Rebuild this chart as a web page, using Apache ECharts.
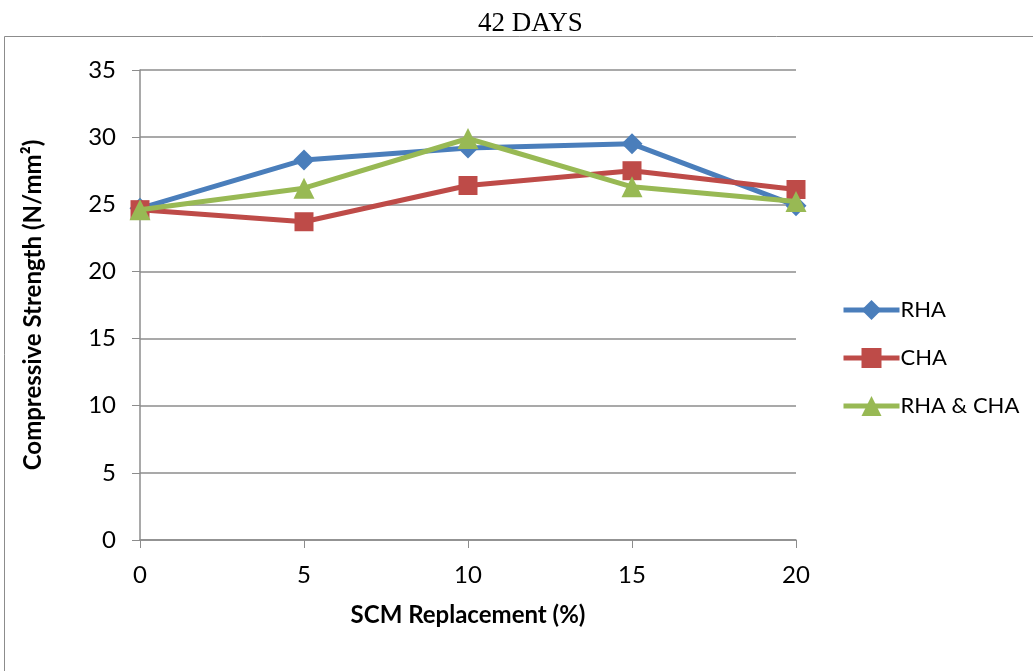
<!DOCTYPE html>
<html>
<head>
<meta charset="utf-8">
<script src="https://cdn.jsdelivr.net/npm/echarts@6/dist/echarts.min.js"></script>
<style>
  html, body { margin: 0; padding: 0; background: #fff; }
  #chart { width: 1033px; height: 671px; }
</style>
</head>
<body>
<div id="chart"></div>
<script>
// SCM replacement levels (%)
const replacement = [0, 5, 10, 15, 20];
// compressive strength at 42 days (N/mm²)
const rha = [24.7, 28.3, 29.2, 29.5, 24.9];
const cha = [24.6, 23.7, 26.4, 27.5, 26.1];
const rhaCha = [24.6, 26.2, 29.9, 26.3, 25.2];

const font = 'Lato, "Open Sans", sans-serif';

const chart = echarts.init(document.getElementById('chart'));

const pairs = vals => replacement.map((x, i) => [x, vals[i]]);

const option = {
  animation: false,
  title: {
    text: '42 DAYS',
    left: 473,
    top: 5,
    textStyle: { fontFamily: '"Liberation Serif", serif', fontSize: 27, fontWeight: 'normal', color: '#000' }
  },
  graphic: [
    {
      type: 'rect',
      shape: { x: 4.5, y: 36.5, width: 1100, height: 700 },
      style: { fill: 'none', stroke: '#8c8c8c', lineWidth: 1 },
      silent: true
    }
  ],
  legend: {
    orient: 'vertical',
    left: 836,
    top: 294,
    itemWidth: 56,
    itemHeight: 25,
    itemGap: 26,
    lineStyle: { width: 5 },
    textStyle: { fontFamily: font, fontSize: 22, color: '#000', padding: [0, 0, 0, -4] },
    data: ['RHA', 'CHA', 'RHA & CHA']
  },
  grid: { left: 140, right: 237, top: 70, bottom: 131 },
  xAxis: {
    type: 'value',
    min: 0,
    max: 20,
    interval: 5,
    name: 'SCM Replacement (%)',
    nameLocation: 'middle',
    nameGap: 63,
    nameTextStyle: { fontFamily: font, fontSize: 24, fontWeight: 'bold', color: '#000' },
    axisLine: { lineStyle: { color: '#8c8c8c', width: 1.5 } },
    axisTick: { show: true, length: 8, lineStyle: { color: '#8c8c8c' } },
    axisLabel: { fontFamily: font, fontSize: 24, color: '#000', margin: 23 },
    splitLine: { show: false }
  },
  yAxis: {
    type: 'value',
    min: 0,
    max: 35,
    interval: 5,
    name: 'Compressive Strength (N/mm²)',
    nameLocation: 'middle',
    nameGap: 95,
    nameTextStyle: { fontFamily: font, fontSize: 24, fontWeight: 'bold', color: '#000' },
    axisLine: { show: true, lineStyle: { color: '#8c8c8c', width: 1.5 } },
    axisTick: { show: true, length: 8, lineStyle: { color: '#8c8c8c' } },
    axisLabel: { fontFamily: font, fontSize: 24, color: '#000', margin: 24 },
    splitLine: { lineStyle: { color: '#8c8c8c', width: 1.5 } }
  },
  series: [
    {
      name: 'RHA',
      type: 'line',
      data: pairs(rha),
      symbol: 'diamond',
      symbolSize: 21,
      lineStyle: { width: 5, color: '#4a7ebb' },
      itemStyle: { color: '#4a7ebb' },
      z: 2
    },
    {
      name: 'CHA',
      type: 'line',
      data: pairs(cha),
      symbol: 'rect',
      symbolSize: 19,
      lineStyle: { width: 5, color: '#be4b48' },
      itemStyle: { color: '#be4b48' },
      z: 3
    },
    {
      name: 'RHA & CHA',
      type: 'line',
      data: pairs(rhaCha),
      symbol: 'triangle',
      symbolSize: 21,
      lineStyle: { width: 5, color: '#98b954' },
      itemStyle: { color: '#98b954' },
      z: 4
    }
  ]
};

chart.setOption(option);
window.addEventListener('resize', () => chart.resize());
</script>
</body>
</html>
